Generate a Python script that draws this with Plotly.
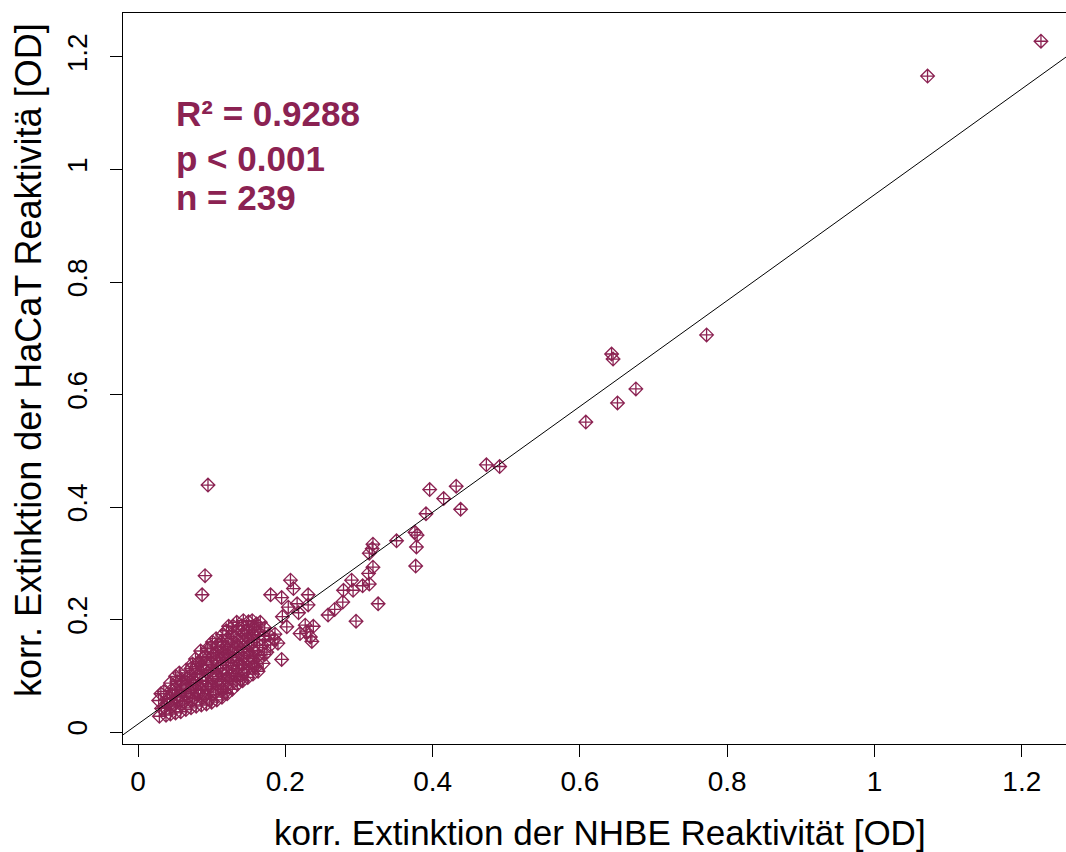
import plotly.graph_objects as go

# ---- data ----
# scattered points outside the dense cluster
nhbe_spread = [0.095, 0.091, 0.087, 1.226, 1.072, 0.772, 0.643, 0.645, 0.676, 0.651,
               0.608, 0.473, 0.491, 0.396, 0.432, 0.415, 0.438, 0.391, 0.376, 0.379,
               0.378, 0.377, 0.351, 0.319, 0.318, 0.314, 0.319, 0.313, 0.314, 0.305,
               0.292, 0.290, 0.279, 0.278, 0.326, 0.296, 0.267, 0.258, 0.207, 0.211,
               0.180, 0.195, 0.231, 0.231, 0.216, 0.204, 0.218, 0.196, 0.202, 0.227,
               0.238, 0.220, 0.229, 0.234, 0.186, 0.236, 0.195, 0.180, 0.185, 0.178,
               0.172, 0.166, 0.175, 0.190]
hacat_spread = [0.439, 0.278, 0.244, 1.228, 1.166, 0.706, 0.672, 0.663, 0.610, 0.585,
                0.551, 0.475, 0.472, 0.431, 0.437, 0.415, 0.396, 0.388, 0.355, 0.350,
                0.329, 0.295, 0.340, 0.334, 0.326, 0.318, 0.293, 0.282, 0.263, 0.260,
                0.252, 0.270, 0.252, 0.231, 0.228, 0.197, 0.218, 0.208, 0.270, 0.255,
                0.244, 0.239, 0.244, 0.226, 0.228, 0.222, 0.212, 0.205, 0.187, 0.190,
                0.188, 0.175, 0.178, 0.169, 0.174, 0.161, 0.129, 0.155, 0.165, 0.172,
                0.185, 0.195, 0.142, 0.158]

# dense cluster near the origin
nhbe_cluster = [
    0.029, 0.032, 0.028, 0.031,
    0.038, 0.036, 0.039, 0.035,
    0.044, 0.046, 0.043, 0.045, 0.044,
    0.051, 0.049, 0.052, 0.050, 0.053, 0.051,
    0.058, 0.060, 0.057, 0.059, 0.058, 0.056,
    0.065, 0.063, 0.066, 0.064, 0.067, 0.065,
    0.072, 0.074, 0.071, 0.073, 0.070, 0.072, 0.074,
    0.079, 0.077, 0.080, 0.078, 0.081, 0.079, 0.078,
    0.086, 0.088, 0.085, 0.087, 0.084, 0.086, 0.088, 0.085,
    0.093, 0.091, 0.094, 0.092, 0.095, 0.093, 0.091, 0.094,
    0.100, 0.102, 0.099, 0.101, 0.098, 0.100, 0.102, 0.099, 0.101,
    0.107, 0.105, 0.108, 0.106, 0.109, 0.107, 0.105, 0.108, 0.106,
    0.114, 0.116, 0.113, 0.115, 0.112, 0.114, 0.116, 0.113, 0.115,
    0.121, 0.119, 0.122, 0.120, 0.123, 0.121, 0.119, 0.122, 0.120, 0.123,
    0.128, 0.130, 0.127, 0.129, 0.126, 0.128, 0.130, 0.127, 0.129,
    0.135, 0.133, 0.136, 0.134, 0.137, 0.135, 0.133, 0.136, 0.134,
    0.142, 0.144, 0.141, 0.143, 0.140, 0.142, 0.144, 0.141, 0.143,
    0.149, 0.147, 0.150, 0.148, 0.151, 0.149, 0.147, 0.150,
    0.156, 0.158, 0.155, 0.157, 0.154, 0.156, 0.158, 0.155,
    0.163, 0.161, 0.164, 0.162, 0.165, 0.163, 0.161,
    0.170, 0.172, 0.169, 0.171,
    0.040, 0.047, 0.054, 0.061, 0.068, 0.075, 0.082, 0.089, 0.096, 0.103,
    0.110, 0.117, 0.124, 0.131, 0.138, 0.145, 0.152, 0.159, 0.097, 0.118,
    0.139, 0.160, 0.083]
hacat_cluster = [
    0.028, 0.042, 0.056, 0.068,
    0.030, 0.044, 0.058, 0.072,
    0.032, 0.046, 0.060, 0.074, 0.087,
    0.034, 0.048, 0.062, 0.076, 0.090, 0.099,
    0.036, 0.050, 0.064, 0.078, 0.092, 0.105,
    0.040, 0.054, 0.068, 0.082, 0.096, 0.110,
    0.043, 0.057, 0.071, 0.085, 0.099, 0.113, 0.121,
    0.046, 0.060, 0.074, 0.088, 0.102, 0.116, 0.130,
    0.048, 0.062, 0.076, 0.090, 0.104, 0.118, 0.132, 0.144,
    0.050, 0.064, 0.078, 0.092, 0.106, 0.120, 0.134, 0.148,
    0.053, 0.067, 0.081, 0.095, 0.109, 0.123, 0.137, 0.151, 0.160,
    0.057, 0.071, 0.085, 0.099, 0.113, 0.127, 0.141, 0.155, 0.166,
    0.062, 0.076, 0.090, 0.104, 0.118, 0.132, 0.146, 0.160, 0.173,
    0.068, 0.082, 0.096, 0.110, 0.124, 0.138, 0.152, 0.166, 0.180, 0.188,
    0.076, 0.090, 0.104, 0.118, 0.132, 0.146, 0.160, 0.174, 0.188,
    0.085, 0.099, 0.113, 0.127, 0.141, 0.155, 0.169, 0.183, 0.195,
    0.091, 0.105, 0.119, 0.133, 0.147, 0.161, 0.175, 0.189, 0.198,
    0.097, 0.111, 0.125, 0.139, 0.153, 0.167, 0.181, 0.196,
    0.103, 0.117, 0.131, 0.145, 0.159, 0.173, 0.187, 0.198,
    0.108, 0.122, 0.136, 0.150, 0.164, 0.178, 0.192,
    0.122, 0.138, 0.154, 0.170,
    0.050, 0.066, 0.056, 0.085, 0.062, 0.093, 0.068, 0.111, 0.086, 0.130,
    0.094, 0.139, 0.101, 0.150, 0.120, 0.172, 0.136, 0.182, 0.058, 0.070,
    0.093, 0.115, 0.125]

# fitted regression line (abline)
fit_intercept = 0.0142
fit_slope = 0.941

stats_lines = ["R² = 0.9288", "p < 0.001", "n = 239"]
x_ticks = [0, 0.2, 0.4, 0.6, 0.8, 1, 1.2]
y_ticks = [0, 0.2, 0.4, 0.6, 0.8, 1, 1.2]
x_title = "korr. Extinktion der NHBE Reaktivität [OD]"
y_title = "korr. Extinktion der HaCaT Reaktivitä [OD]"

# ---- figure ----
COL = "rgb(139,34,82)"
FONT = "Liberation Sans, Arial, sans-serif"
x_range = [-0.0204, 1.26]
y_range = [-0.0213, 1.2782]

fig = go.Figure()
fig.add_trace(go.Scatter(
    x=nhbe_cluster + nhbe_spread, y=hacat_cluster + hacat_spread, mode="markers",
    marker=dict(symbol="diamond-cross-open", size=10.5, color=COL,
                line=dict(color=COL, width=1.3)),
    showlegend=False, hoverinfo="x+y"))

line_x = [x_range[0], x_range[1]]
line_y = [fit_intercept + fit_slope * v for v in line_x]
fig.add_trace(go.Scatter(x=line_x, y=line_y, mode="lines",
                         line=dict(color="black", width=1), showlegend=False,
                         hoverinfo="skip"))

stats_y = [1.099, 1.020, 0.950]
for txt, yy in zip(stats_lines, stats_y):
    fig.add_annotation(x=0.0490, y=yy, xref="x", yref="y", text="<b>%s</b>" % txt,
                       showarrow=False, xanchor="left", yanchor="middle",
                       font=dict(family=FONT, size=35, color=COL))

fig.add_annotation(x=0.5058, y=-0.1204, xref="paper", yref="paper", text=x_title,
                   showarrow=False, xanchor="center", yanchor="middle",
                   font=dict(family=FONT, size=35, color="black"))
fig.add_annotation(x=-0.1000, y=0.525, xref="paper", yref="paper", text=y_title,
                   showarrow=False, xanchor="center", yanchor="middle", textangle=-90,
                   font=dict(family=FONT, size=36, color="black"))

fig.update_layout(
    width=1066, height=852,
    margin=dict(l=123, r=0, t=13, b=108),
    paper_bgcolor="white", plot_bgcolor="white",
    font=dict(family=FONT, size=28, color="black"),
    xaxis=dict(range=x_range, tickvals=x_ticks, ticktext=[str(v) for v in x_ticks],
               ticks="outside", ticklen=12, tickwidth=1, tickcolor="black",
               showline=True, linecolor="black", linewidth=1, mirror=True,
               showgrid=False, zeroline=False,
               tickfont=dict(family=FONT, size=28)),
    yaxis=dict(range=y_range, tickvals=y_ticks, ticktext=[str(v) for v in y_ticks],
               ticks="outside", ticklen=12, tickwidth=1, tickcolor="black",
               showline=True, linecolor="black", linewidth=1, mirror=False,
               showgrid=False, zeroline=False, tickangle=-90, ticklabelstandoff=12,
               tickfont=dict(family=FONT, size=28)),
)

fig.write_html("out.html")
